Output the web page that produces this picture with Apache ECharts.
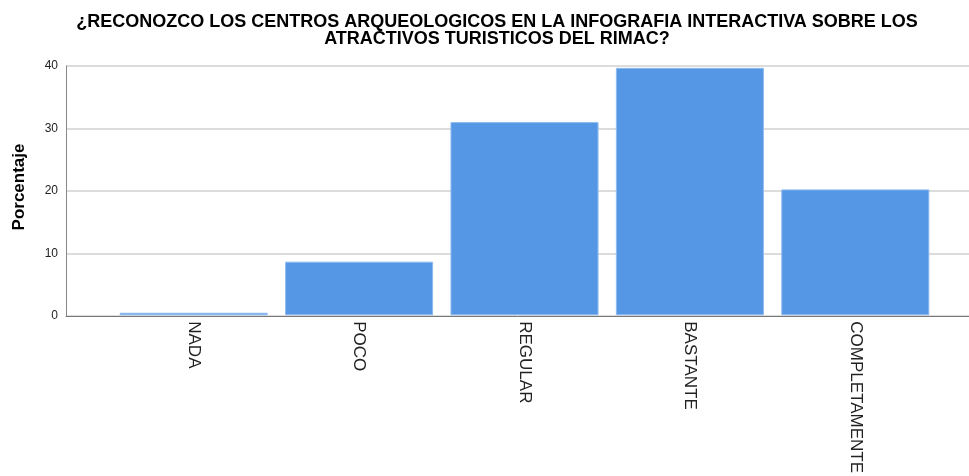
<!DOCTYPE html>
<html>
<head>
<meta charset="utf-8">
<script src="https://cdn.jsdelivr.net/npm/echarts@6/dist/echarts.min.js"></script>
<style>
  html, body { margin: 0; padding: 0; background: #fff; }
  #chart { width: 969px; height: 476px; }
</style>
</head>
<body>
<div id="chart"></div>
<script>
// datos
const categorias = ['NADA', 'POCO', 'REGULAR', 'BASTANTE', 'COMPLETAMENTE'];
const porcentajes = [0.4, 8.6, 31.0, 39.7, 20.2];
const ticksY = [0, 10, 20, 30, 40];

const tituloLineas = [
    '¿RECONOZCO LOS CENTROS ARQUEOLOGICOS EN LA INFOGRAFIA INTERACTIVA SOBRE LOS',
    'ATRACTIVOS TURISTICOS DEL RIMAC?'
];
const fuente = '"Liberation Sans", Arial, sans-serif';

const chart = echarts.init(document.getElementById('chart'));

// cada linea del titulo va por separado para controlar el interlineado
const titulos = tituloLineas.map((t, i) => ({
    text: t,
    left: 497,
    top: 12 + i * 17,
    padding: 0,
    textAlign: 'center',
    textStyle: {
        fontFamily: fuente,
        fontSize: 18,
        fontWeight: 'bold',
        color: '#000',
        lineHeight: 20
    }
}));

const option = {
    animation: false,
    backgroundColor: '#fff',
    title: titulos,
    grid: [
        // marco con ejes y lineas de cuadricula
        { left: 66, right: 0, top: 66, bottom: 160, containLabel: false },
        // barras
        { left: 111, right: 31, top: 66, bottom: 160, containLabel: false }
    ],
    xAxis: [
        {
            gridIndex: 0,
            type: 'value',
            min: 0, max: 1,
            axisLine: { show: true, lineStyle: { color: '#777', width: 1 } },
            axisTick: { show: false },
            axisLabel: { show: false },
            splitLine: { show: false }
        },
        {
            gridIndex: 1,
            type: 'category',
            data: categorias,
            axisLine: { show: false },
            axisTick: { show: false },
            axisLabel: {
                rotate: -90,
                margin: 6,
                fontFamily: fuente,
                fontSize: 17,
                color: '#222'
            }
        }
    ],
    yAxis: [
        {
            gridIndex: 0,
            type: 'value',
            min: ticksY[0],
            max: ticksY[ticksY.length - 1],
            interval: 10,
            name: 'Porcentaje',
            nameLocation: 'middle',
            nameGap: 38,
            nameTextStyle: {
                fontFamily: fuente,
                fontSize: 17,
                fontWeight: 'bold',
                color: '#000',
                padding: [0, 0, 0, 8]
            },
            axisLine: { show: true, lineStyle: { color: '#888', width: 1 } },
            axisTick: { show: false },
            axisLabel: {
                margin: 8,
                fontFamily: fuente,
                fontSize: 12,
                color: '#222'
            },
            splitLine: { lineStyle: { color: '#d0d0d0', width: 1.5 } }
        },
        {
            gridIndex: 1,
            type: 'value',
            min: ticksY[0],
            max: ticksY[ticksY.length - 1],
            show: false,
            splitLine: { show: false }
        }
    ],
    series: [
        {
            type: 'bar',
            xAxisIndex: 1,
            yAxisIndex: 1,
            data: porcentajes,
            barCategoryGap: '10.5%',
            itemStyle: {
                color: '#5597e4',
                borderColor: '#8dbaf0',
                borderWidth: 1
            },
            z: 3
        }
    ]
};

chart.setOption(option);
</script>
</body>
</html>
